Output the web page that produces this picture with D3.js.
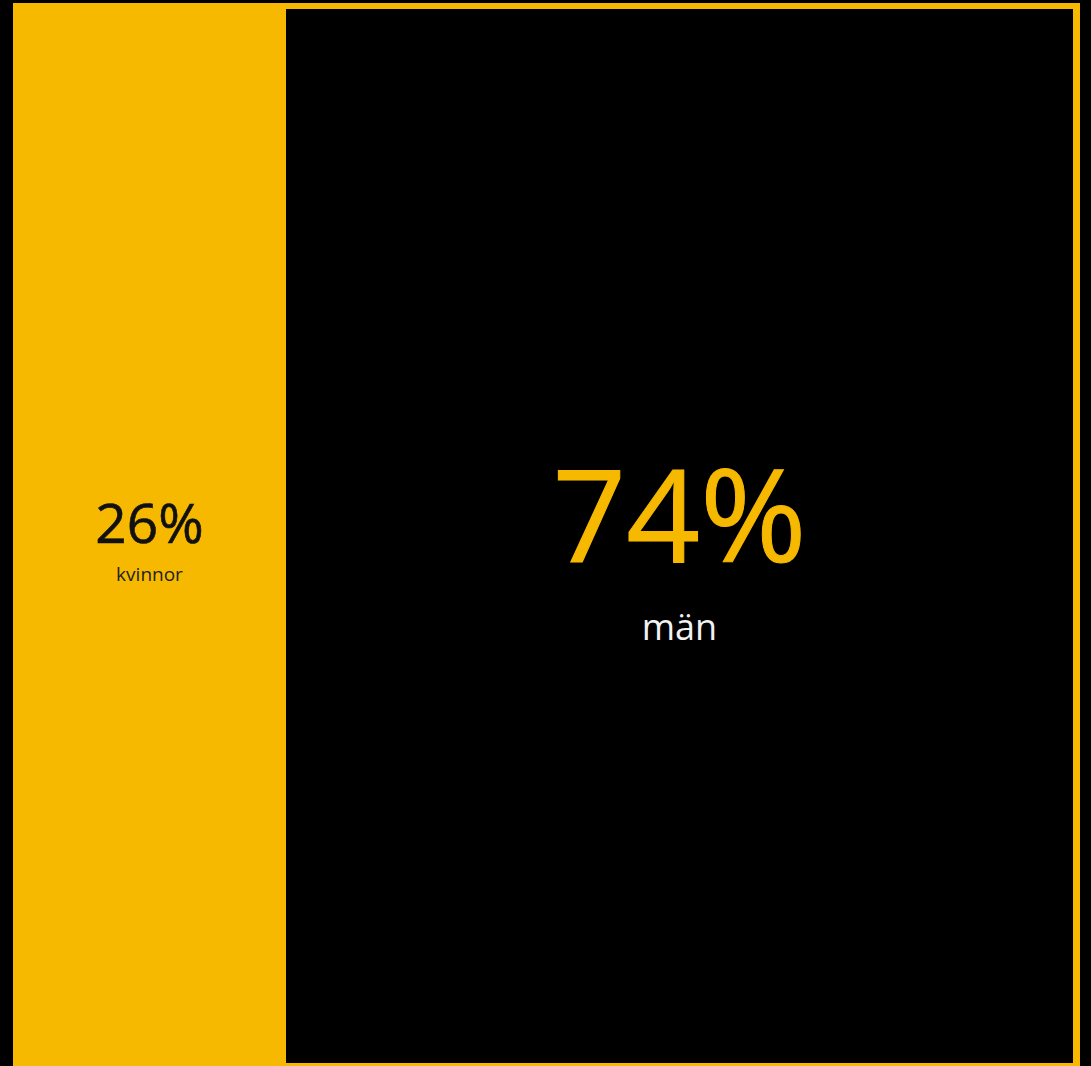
<!DOCTYPE html>
<html>
<head>
<meta charset="utf-8">
<script src="https://cdn.jsdelivr.net/npm/d3@7"></script>
<style>
  html, body { margin: 0; padding: 0; background: #000; }
  svg { display: block; }
</style>
</head>
<body>
<svg id="chart" width="1091" height="1066"></svg>
<script>
// Data
const categories = ["kvinnor", "män"];
const shares = [26, 74];
const valueLabels = ["26%", "74%"];

const W = 1091, H = 1066;
const yellow = "#F7B900";
const svg = d3.select("#chart");

svg.append("rect").attr("x", 0).attr("y", 0).attr("width", W).attr("height", H).attr("fill", "#000");

// cumulative positions
const cum = [];
let acc = 0;
shares.forEach(v => { cum.push([acc, acc + v]); acc += v; });

const x = d3.scaleLinear().domain([0, d3.sum(shares)]).range([13, 1063]);
const y = d3.scaleLinear().domain([0, 1]).range([3, 1070]);

// outer yellow frame (background of whole chart area)
svg.append("rect")
  .attr("x", x(0)).attr("y", y(0))
  .attr("width", 1080 - x(0)).attr("height", y(1) - y(0))
  .attr("fill", yellow);

// men block (black with yellow border)
const menX0 = x(cum[1][0]);
svg.append("rect")
  .attr("x", menX0).attr("y", y(0) + 6)
  .attr("width", 1073 - menX0).attr("height", 1063 - (y(0) + 6))
  .attr("fill", "#000");

// labels
const cx = [ (x(cum[0][0]) + x(cum[0][1])) / 2, (menX0 + 1073) / 2 ];

svg.append("text")
  .attr("x", cx[0]).attr("y", 543)
  .attr("text-anchor", "middle")
  .attr("font-family", "'Open Sans', sans-serif")
  .attr("font-size", 55)
  .attr("fill", "#111")
  .attr("stroke", "#111").attr("stroke-width", 0.6)
  .text(valueLabels[0]);

svg.append("text")
  .attr("x", cx[0]).attr("y", 581)
  .attr("text-anchor", "middle")
  .attr("font-family", "'Open Sans', sans-serif")
  .attr("font-size", 19)
  .attr("fill", "#222")
  .text(categories[0]);

svg.append("text")
  .attr("x", cx[1]).attr("y", 562)
  .attr("text-anchor", "middle")
  .attr("font-family", "'Open Sans', sans-serif")
  .attr("font-size", 129)
  .attr("fill", yellow)
  .attr("stroke", yellow).attr("stroke-width", 1)
  .text(valueLabels[1]);

svg.append("text")
  .attr("x", cx[1]).attr("y", 640)
  .attr("text-anchor", "middle")
  .attr("font-family", "'Open Sans', sans-serif")
  .attr("font-size", 36)
  .attr("fill", "#f2f2f2")
  .text(categories[1]);
</script>
</body>
</html>
